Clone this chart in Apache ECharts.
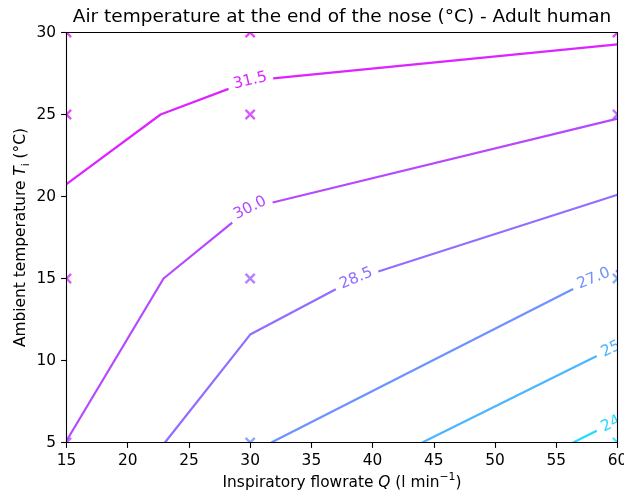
<!DOCTYPE html>
<html><head><meta charset="utf-8">
<script src="https://cdn.jsdelivr.net/npm/echarts@6/dist/echarts.min.js"></script>
<style>html,body{margin:0;padding:0;background:#fff}#c{width:624px;height:493px}</style>
</head><body><div id="c"></div>
<script>
// ---- data ----
const flowrates = [15, 30, 60];               // Q (l/min), grid columns
const ambientTemps = [5, 15, 25, 30];         // Ti (°C), grid rows
const noseTempAt5  = [29.99, 27.21, 23.56];   // nose-end air temp at Ti=5
const noseTempAt15 = [30.93, 29.17, 26.85];   // at Ti=15
const noseTempAt25 = [31.92, 31.10, 30.08];   // at Ti=25
const noseTempAt30 = [32.30, 32.07, 31.74];   // at Ti=30
const contourLevels = [24.0, 25.5, 27.0, 28.5, 30.0, 31.5];
const xTicks = [15, 20, 25, 30, 35, 40, 45, 50, 55, 60];
const yTicks = [5, 10, 15, 20, 25, 30];

// ---- style / layout ----
const FONT = 'DejaVu Sans';
const FS = 15.4;
const labelAnchorX = [60, 60, 58, 38.7, 30, 30]; // where inline labels sit (nearest vertex)
const normMin = 22.5, normMax = 33;
function cool(v){ let t=(v-normMin)/(normMax-normMin); t=Math.max(0,Math.min(1,t));
  return 'rgb('+Math.round(255*t)+','+Math.round(255*(1-t))+',255)'; }

const Z = [noseTempAt5, noseTempAt15, noseTempAt25, noseTempAt30];

function contourLines(level){
  const nx=flowrates.length, ny=ambientTemps.length;
  const pts={}, adj={};
  function ep(key,x1,y1,a,x2,y2,b){ if(!(key in pts)){const t=(level-a)/(b-a); pts[key]=[x1+t*(x2-x1), y1+t*(y2-y1)];} return key; }
  function link(k1,k2){ (adj[k1]=adj[k1]||[]).push(k2); (adj[k2]=adj[k2]||[]).push(k1); }
  const up=v=>v>=level;
  for(let j=0;j<ny-1;j++) for(let i=0;i<nx-1;i++){
    const a=Z[j][i], b=Z[j][i+1], c=Z[j+1][i+1], d=Z[j+1][i];
    const x0=flowrates[i], x1=flowrates[i+1], y0=ambientTemps[j], y1=ambientTemps[j+1];
    const cr=[];
    if(up(a)!==up(b)) cr.push(ep('h'+j+'_'+i,x0,y0,a,x1,y0,b));
    if(up(b)!==up(c)) cr.push(ep('v'+j+'_'+(i+1),x1,y0,b,x1,y1,c));
    if(up(c)!==up(d)) cr.push(ep('h'+(j+1)+'_'+i,x1,y1,c,x0,y1,d));
    if(up(d)!==up(a)) cr.push(ep('v'+j+'_'+i,x0,y1,d,x0,y0,a));
    if(cr.length===2) link(cr[0],cr[1]);
    else if(cr.length===4){ link(cr[0],cr[1]); link(cr[2],cr[3]); }
  }
  const keys=Object.keys(adj), used=new Set(), lines=[];
  const starts=keys.filter(k=>adj[k].length===1).concat(keys);
  for(const s of starts){
    if(used.has(s)) continue;
    const line=[s]; used.add(s); let cur=s;
    while(true){ const nxt=adj[cur].find(k=>!used.has(k)); if(!nxt) break; used.add(nxt); line.push(nxt); cur=nxt; }
    lines.push(line.map(k=>pts[k]));
  }
  return lines;
}

const chart = echarts.init(document.getElementById('c'), null, {renderer:'canvas'});

const markerData=[];
for(let j=0;j<ambientTemps.length;j++) for(let i=0;i<flowrates.length;i++){
  markerData.push({value:[flowrates[i], ambientTemps[j]], itemStyle:{color:'none', borderColor:cool(Z[j][i]), borderWidth:2.3}});
}

const axisCommon = {
  type:'value', interval:5, z:10,
  axisLine:{show:false},
  axisTick:{show:true, inside:false, length:5.4, lineStyle:{color:'#000', width:1.1}},
  splitLine:{show:false},
  axisLabel:{color:'#000', fontFamily:FONT, fontSize:FS, margin:10.5},
  nameLocation:'middle',
  nameMoveOverlap:false,
};
const richBase = {
  n:{fontFamily:FONT, fontSize:FS, color:'#000', lineHeight:22},
  i:{fontFamily:FONT, fontSize:FS, color:'#000', fontStyle:'italic', lineHeight:22},
  sup:{fontFamily:FONT, fontSize:10.8, color:'#000', lineHeight:12, verticalAlign:'top'},
  sub:{fontFamily:FONT, fontSize:10.8, color:'#000', lineHeight:13, verticalAlign:'bottom'}
};

const baseOption = {
  animation:false,
  backgroundColor:'#fff',
  grid:{left:66.5, right:6.5, top:32.5, bottom:50.5, containLabel:false, outerBoundsMode:'none'},
  xAxis:Object.assign({}, axisCommon, {min:xTicks[0], max:xTicks[xTicks.length-1],
    name:'{n|Inspiratory flowrate }{i|Q}{n| (l min}{sup|−1}{n|)}', nameGap:29,
    nameTextStyle:{rich:richBase}}),
  yAxis:Object.assign({}, axisCommon, {min:yTicks[0], max:yTicks[yTicks.length-1],
    name:'{n|Ambient temperature }{i|T}{sub|i}{n| (°C)}', nameGap:35, nameRotate:90,
    nameTextStyle:{rich:richBase}}),
  series:[{type:'scatter', data:markerData, symbol:'path://M0,0L10,10M10,0L0,10', symbolSize:9.2, z:4, clip:false, silent:true}]
};
chart.setOption(baseOption);

// measure text
const mctx=document.createElement('canvas').getContext('2d');
mctx.font=FS+'px "'+FONT+'"';

const series=[baseOption.series[0]];
const graphics=[];
contourLevels.forEach((lev, li)=>{
  const color=cool(lev);
  const lines=contourLines(lev);
  let best=null;
  lines.forEach((ln,idx)=>ln.forEach((p,k)=>{ const d=Math.abs(p[0]-labelAnchorX[li]); if(!best||d<best.d) best={d,idx,k}; }));
  lines.forEach((ln,idx)=>{
    const px=ln.map(p=>chart.convertToPixel({gridIndex:0}, p));
    if(!best || idx!==best.idx){
      series.push({type:'line', data:ln, showSymbol:false, silent:true, lineStyle:{color, width:2.2}, z:2});
      return;
    }
    const s=[0]; for(let k=1;k<px.length;k++) s.push(s[k-1]+Math.hypot(px[k][0]-px[k-1][0], px[k][1]-px[k-1][1]));
    const total=s[s.length-1];
    const txt=lev.toFixed(1);
    const w=mctx.measureText(txt).width;
    const h=w/2+6;
    const sc=s[best.k];
    function at(v){ v=Math.max(0,Math.min(total,v)); for(let k=1;k<px.length;k++){ if(v<=s[k]||k===px.length-1){ const t=(s[k]-s[k-1])>0?(v-s[k-1])/(s[k]-s[k-1]):0; return [px[k-1][0]+t*(px[k][0]-px[k-1][0]), px[k-1][1]+t*(px[k][1]-px[k-1][1])]; } } return px[0]; }
    const a0=sc-h, a1=sc+h;
    const pieces=[];
    if(a0>0){ const pc=[]; for(let k=0;k<px.length&&s[k]<a0;k++) pc.push(px[k]); pc.push(at(a0)); pieces.push(pc); }
    if(a1<total){ const pc=[at(a1)]; for(let k=0;k<px.length;k++) if(s[k]>a1) pc.push(px[k]); pieces.push(pc); }
    pieces.forEach(pc=>series.push({type:'line', data:pc.map(p=>chart.convertFromPixel({gridIndex:0}, p)), showSymbol:false, silent:true, lineStyle:{color, width:2.2}, z:2}));
    const p0=at(a0), p1=at(a1);
    let dx=p1[0]-p0[0], dy=p1[1]-p0[1]; if(dx<0){dx=-dx;dy=-dy;}
    const rot=Math.atan2(-dy, dx);
    const c=px[best.k];
    graphics.push({type:'text', x:c[0], y:c[1], rotation:rot, z:3, silent:true,
      style:{text:txt, fill:color, font:FS+'px "'+FONT+'"', align:'center', verticalAlign:'middle'}});
  });
});

// mask outside plot area (clip like matplotlib), frame, title
const tl=chart.convertToPixel({gridIndex:0},[xTicks[0], yTicks[yTicks.length-1]]);
const br=chart.convertToPixel({gridIndex:0},[xTicks[xTicks.length-1], yTicks[0]]);
const W=624, H=493;
[[0,0,tl[0],H],[br[0],0,W-br[0],H],[0,0,W,tl[1]],[0,br[1],W,H-br[1]]].forEach(r=>{
  graphics.push({type:'rect', shape:{x:r[0],y:r[1],width:r[2],height:r[3]}, style:{fill:'#fff'}, z:5, silent:true});
});
graphics.push({type:'rect', shape:{x:tl[0], y:tl[1], width:br[0]-tl[0], height:br[1]-tl[1]}, style:{fill:'none', stroke:'#000', lineWidth:1.1}, z:12, silent:true});
graphics.push({type:'text', x:(tl[0]+br[0])/2, y:17, z:20, silent:true,
  style:{text:'Air temperature at the end of the nose (°C) - Adult human', fill:'#000', font:'18.5px "'+FONT+'"', align:'center', verticalAlign:'middle'}});

chart.setOption({series:series, graphic:{elements:graphics}});
</script>
</body></html>
